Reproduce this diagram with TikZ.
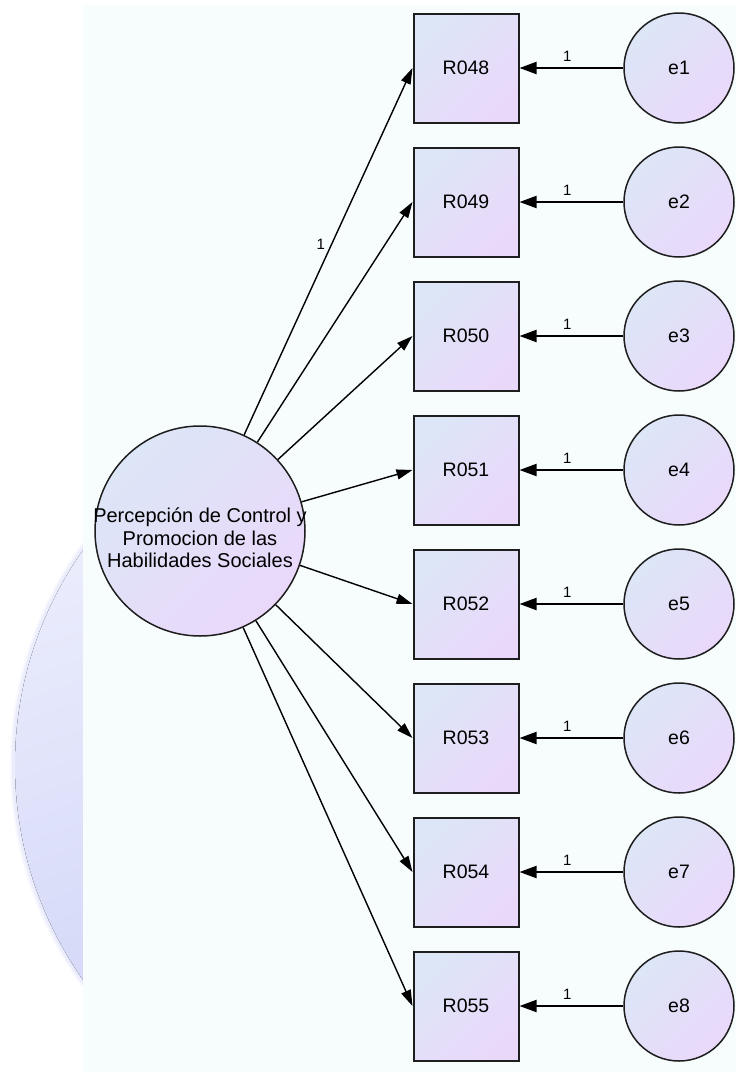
\documentclass[tikz,border=0pt]{standalone}
\usepackage{fontspec}
\setmainfont{Liberation Sans}
\usetikzlibrary{arrows.meta,shapes.geometric}
\definecolor{panel}{HTML}{F7FCFD}
\definecolor{fillA}{HTML}{DCE6F6}
\definecolor{fillB}{HTML}{EAD8FB}
\definecolor{discA}{HTML}{EEF0FD}
\definecolor{discB}{HTML}{C8CCF5}
\definecolor{edgecol}{HTML}{1E1E1E}
\tikzset{
  obsbox/.style={draw=edgecol, line width=2pt, shading=axis, top color=fillA, bottom color=fillB, shading angle=45,
    minimum width=105pt, minimum height=109pt, inner sep=0pt, font=\fontsize{19.5}{22}\selectfont},
  errc/.style={circle, draw=edgecol, line width=1.5pt, shading=axis, top color=fillA, bottom color=fillB, shading angle=45,
    minimum size=110pt, inner sep=0pt, font=\fontsize{19.5}{22}\selectfont},
  latc/.style={circle, draw=edgecol, line width=1.5pt, shading=axis, top color=fillA, bottom color=fillB, shading angle=45,
    minimum size=210pt, inner sep=0pt},
  load/.style={line width=1.4pt, -{Triangle[length=16pt,width=10pt]}},
  errarr/.style={line width=2pt, -{Triangle[length=17pt,width=12pt]}},
  wlab/.style={font=\fontsize{15}{17}\selectfont, inner sep=1pt}
}
\begin{document}
\begin{tikzpicture}[x=1pt,y=-1pt]
\useasboundingbox (0,0) rectangle (736,1072);
\fill[white] (0,0) rectangle (736,1072);
% faint background disc on the left
\begin{scope}
  \clip (0,0) rectangle (83,1072);
  \fill[discA!45!white] (388,765) circle (378);
  \fill[discA!70!discB!70!white] (388,765) circle (376);
  \fill[top color=discA, bottom color=discB, shading angle=20] (388,765) circle (373);
\end{scope}
% panel
\fill[panel] (83,5) rectangle (736,1072);
% latent variable
\node[latc] (F) at (200,531) {};
\node[align=center, font=\fontsize{20}{22.5}\selectfont, inner sep=0pt] (Ftext) at (200,538)
  {Percepción de Control y\\Promocion de las\\Habilidades Sociales};
% observed and error variables
\foreach \i/\nm in {0/R048,1/R049,2/R050,3/R051,4/R052,5/R053,6/R054,7/R055}{
  \pgfmathsetmacro{\yy}{68+134*\i}
  \node[obsbox] (\nm) at (466,\yy) {\nm};
}
\foreach \i/\nm in {0/e1,1/e2,2/e3,3/e4,4/e5,5/e6,6/e7,7/e8}{
  \pgfmathsetmacro{\yy}{68+134*\i}
  \node[errc] (\nm) at (679,\yy) {\nm};
}
% loadings
\draw[load] (F) -- (R048.west) node[wlab, pos=0.52, left=5pt] (l1) {1};
\foreach \nm in {R049,R050,R051,R052,R053,R054,R055}{
  \draw[load] (F) -- (\nm.west);
}
% error paths
\foreach \e/\nm in {e1/R048,e2/R049,e3/R050,e4/R051,e5/R052,e6/R053,e7/R054,e8/R055}{
  \draw[errarr] (\e) -- (\nm.east) node[wlab, pos=0.54, above=5pt] {1};
}
\end{tikzpicture}
\end{document}
